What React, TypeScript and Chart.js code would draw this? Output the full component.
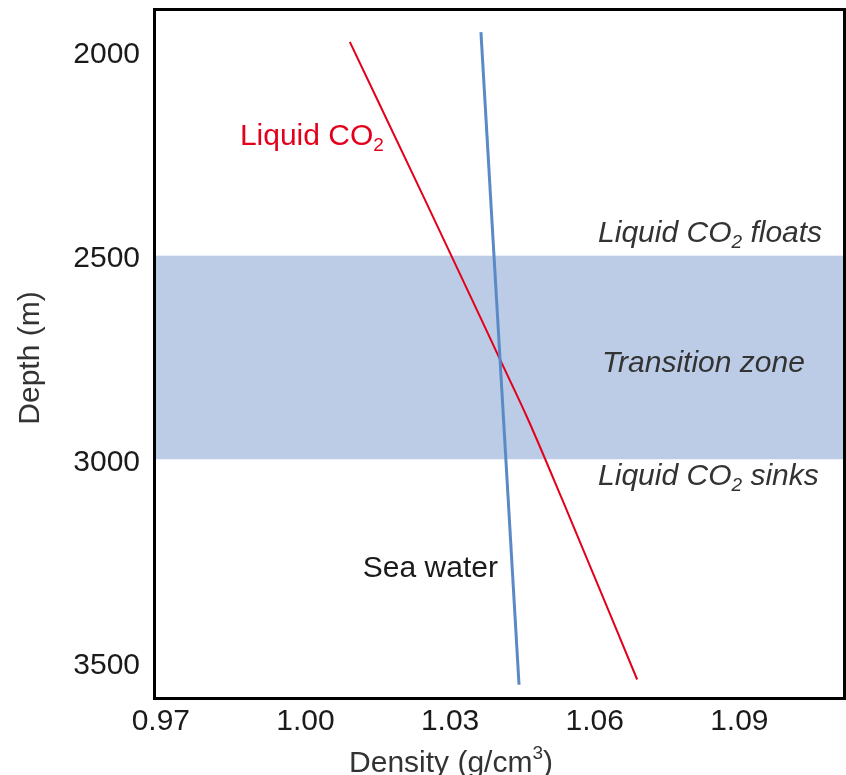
import { useEffect, useRef } from "react";
import { Chart, registerables } from "chart.js";

Chart.register(...registerables);

// ---- data ----
const X_TICKS = [0.97, 1.0, 1.03, 1.06, 1.09];
const Y_TICKS = [2000, 2500, 3000, 3500];
const X_RANGE = [0.969, 1.1115];
const Y_RANGE = [1899, 3584];

const CO2_DENSITY = [1.0092, 1.0248, 1.0346, 1.0404, 1.0462, 1.0533, 1.0688];
const CO2_DEPTH = [1975, 2363, 2609, 2756, 2903, 3100, 3541];

const SEA_DENSITY = [1.0364, 1.0443];
const SEA_DEPTH = [1951, 3554];

const ZONE_DEPTHS = [2500, 3000];

// rich-text labels: [text, mode] where mode: "n" normal, "sub", "sup"
type Seg = [string, "n" | "sub" | "sup"];
const LABEL_CO2: Seg[] = [["Liquid CO", "n"], ["2", "sub"]];
const LABEL_SEA: Seg[] = [["Sea water", "n"]];
const LABEL_FLOATS: Seg[] = [["Liquid CO", "n"], ["2", "sub"], [" floats", "n"]];
const LABEL_ZONE: Seg[] = [["Transition zone", "n"]];
const LABEL_SINKS: Seg[] = [["Liquid CO", "n"], ["2", "sub"], [" sinks", "n"]];
const X_TITLE: Seg[] = [["Density (g/cm", "n"], ["3", "sup"], [")", "n"]];
const Y_TITLE: Seg[] = [["Depth (m)", "n"]];

// label anchor positions in data units [density, depth]
const POS_CO2 = [0.9864, 2209];
const POS_SEA = [1.0119, 3268];
const POS_FLOATS = [1.0607, 2447];
const POS_ZONE = [1.0615, 2764];
const POS_SINKS = [1.0607, 3042];

const FONT = "'Liberation Sans', Arial, Helvetica, sans-serif";
const SIZE = 30;

function drawRich(
  ctx: CanvasRenderingContext2D,
  segs: Seg[],
  x: number,
  y: number,
  opts: { italic?: boolean; color: string; align?: "left" | "center" }
) {
  const style = opts.italic ? "italic " : "";
  const fontFor = (m: string) =>
    `${style}${m === "n" ? SIZE : Math.round(SIZE * 0.62)}px ${FONT}`;
  ctx.save();
  ctx.fillStyle = opts.color;
  ctx.textBaseline = "middle";
  ctx.textAlign = "left";
  let total = 0;
  for (const [t, m] of segs) {
    ctx.font = fontFor(m);
    total += ctx.measureText(t).width;
  }
  let cx = opts.align === "center" ? x - total / 2 : x;
  for (const [t, m] of segs) {
    ctx.font = fontFor(m);
    const dy = m === "sub" ? SIZE * 0.3 : m === "sup" ? -SIZE * 0.33 : 0;
    ctx.fillText(t, cx, y + dy);
    cx += ctx.measureText(t).width;
  }
  ctx.restore();
}

const decorPlugin = {
  id: "decor",
  beforeDatasetsDraw(chart: any) {
    const { ctx, chartArea, scales } = chart;
    const y0 = scales.y.getPixelForValue(ZONE_DEPTHS[0]);
    const y1 = scales.y.getPixelForValue(ZONE_DEPTHS[1]);
    ctx.save();
    ctx.fillStyle = "#bccce6";
    ctx.fillRect(chartArea.left, y0, chartArea.right - chartArea.left, y1 - y0);
    ctx.restore();
  },
  afterDraw(chart: any) {
    const { ctx, chartArea, scales } = chart;
    const { left, right, top, bottom } = chartArea;
    const px = (p: number[]) => [
      scales.x.getPixelForValue(p[0]),
      scales.y.getPixelForValue(p[1]),
    ];

    // frame
    ctx.save();
    ctx.strokeStyle = "#000";
    ctx.lineWidth = 3;
    ctx.strokeRect(left - 1.5, top - 1.5, right - left + 3, bottom - top + 3);
    ctx.restore();

    // labels
    let p = px(POS_CO2);
    drawRich(ctx, LABEL_CO2, p[0], p[1], { color: "#e3001b" });
    p = px(POS_SEA);
    drawRich(ctx, LABEL_SEA, p[0], p[1], { color: "#1a1a1a" });
    p = px(POS_FLOATS);
    drawRich(ctx, LABEL_FLOATS, p[0], p[1], { color: "#333", italic: true });
    p = px(POS_ZONE);
    drawRich(ctx, LABEL_ZONE, p[0], p[1], { color: "#333", italic: true });
    p = px(POS_SINKS);
    drawRich(ctx, LABEL_SINKS, p[0], p[1], { color: "#333", italic: true });

    // axis titles
    drawRich(ctx, X_TITLE, 451, 764, { color: "#333", align: "center" });
    ctx.save();
    ctx.translate(31, 358);
    ctx.rotate(-Math.PI / 2);
    drawRich(ctx, Y_TITLE, 0, 0, { color: "#333", align: "center" });
    ctx.restore();
  },
};

export default function App() {
  const ref = useRef<HTMLCanvasElement>(null);

  useEffect(() => {
    if (!ref.current) return;
    const tickFont = { family: FONT, size: SIZE };
    const chart = new Chart(ref.current, {
      type: "scatter",
      data: {
        datasets: [
          {
            label: "Sea water",
            data: SEA_DENSITY.map((d, i) => ({ x: d, y: SEA_DEPTH[i] })),
            showLine: true,
            borderColor: "#5a8ac6",
            borderWidth: 3,
            pointRadius: 0,
            tension: 0,
          },
          {
            label: "Liquid CO2",
            data: CO2_DENSITY.map((d, i) => ({ x: d, y: CO2_DEPTH[i] })),
            showLine: true,
            borderColor: "#e3001b",
            borderWidth: 2,
            pointRadius: 0,
            cubicInterpolationMode: "monotone",
          },
        ],
      },
      options: {
        responsive: false,
        maintainAspectRatio: false,
        animation: false,
        layout: { padding: { top: 11, right: 3, left: 0, bottom: 0 } },
        plugins: { legend: { display: false }, tooltip: { enabled: false } },
        scales: {
          x: {
            type: "linear",
            min: X_RANGE[0],
            max: X_RANGE[1],
            grid: { display: false, drawTicks: false },
            border: { display: false },
            ticks: {
              padding: 7,
              color: "#1a1a1a",
              font: tickFont,
              autoSkip: false,
              maxRotation: 0,
              callback: (v: any) => Number(v).toFixed(2),
            },
            afterBuildTicks: (s: any) => {
              s.ticks = X_TICKS.map((v) => ({ value: v }));
            },
            afterFit: (s: any) => {
              s.height = 78;
              s.paddingLeft = 0;
              s.paddingRight = 0;
            },
          },
          y: {
            type: "linear",
            reverse: true,
            min: Y_RANGE[0],
            max: Y_RANGE[1],
            grid: { display: false, drawTicks: false },
            border: { display: false },
            ticks: {
              padding: 16,
              labelOffset: 3,
              color: "#1a1a1a",
              font: tickFont,
              autoSkip: false,
              callback: (v: any) => String(v),
            },
            afterBuildTicks: (s: any) => {
              s.ticks = Y_TICKS.map((v) => ({ value: v }));
            },
            afterFit: (s: any) => {
              s.width = 156;
              s.paddingTop = 0;
              s.paddingBottom = 0;
            },
          },
        },
      },
      plugins: [decorPlugin],
    });
    return () => chart.destroy();
  }, []);

  return (
    <div style={{ position: "absolute", left: 0, top: 0, width: 846, height: 775 }}>
      <canvas ref={ref} width={846} height={775} style={{ display: "block" }} />
    </div>
  );
}
